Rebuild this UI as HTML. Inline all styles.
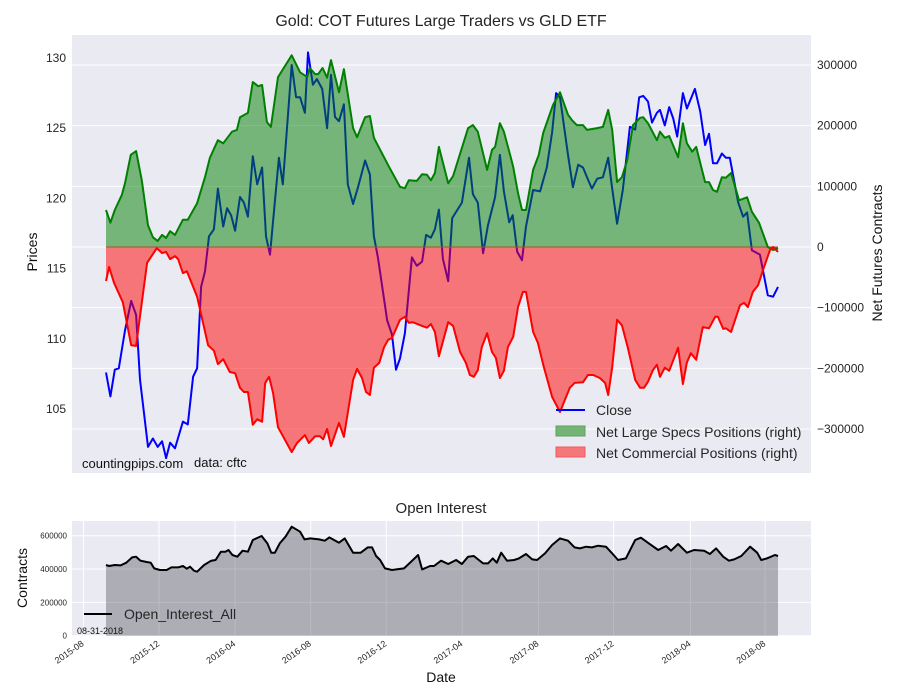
<!DOCTYPE html>
<html><head><meta charset="utf-8"><style>
body{margin:0;background:#fff;}
svg{display:block;font-family:"Liberation Sans",sans-serif;}
</style></head><body>
<svg id="chart" width="900" height="700" viewBox="0 0 900 700" xmlns="http://www.w3.org/2000/svg">
<rect x="0" y="0" width="900" height="700" fill="#fff"/>
<text x="441" y="26" text-anchor="middle" font-size="16" fill="#262626">Gold: COT Futures Large Traders vs GLD ETF</text>
<rect x="72" y="35" width="739" height="438" fill="#EAEAF2"/>
<g id="mainGrid"></g>
<g id="mainMarks"></g>
<g id="mainAxes"></g>
<text x="82" y="468" font-size="13" fill="#111">countingpips.com</text>
<text x="194" y="467" font-size="13" fill="#111">data: cftc</text>
<text transform="translate(37,252) rotate(-90)" text-anchor="middle" font-size="14" fill="#111">Prices</text>
<text transform="translate(882,253) rotate(-90)" text-anchor="middle" font-size="14" fill="#111">Net Futures Contracts</text>
<g>
<line x1="556" y1="410" x2="585" y2="410" stroke="#0000ff" stroke-width="2"/>
<text x="596" y="415" font-size="14" fill="#262626">Close</text>
<rect x="556" y="426" width="29" height="10" fill="#75b377" stroke="#5aa35c"/>
<text x="596" y="437" font-size="14" fill="#262626">Net Large Specs Positions (right)</text>
<rect x="556" y="447" width="29" height="10" fill="#f47779" stroke="#f25a5c"/>
<text x="596" y="458" font-size="14" fill="#262626">Net Commercial Positions (right)</text>
</g>
<text x="441" y="513" text-anchor="middle" font-size="15" fill="#262626">Open Interest</text>
<rect x="72" y="521" width="739" height="115" fill="#EAEAF2"/>
<g id="oiGrid"></g>
<g id="oiMarks"></g>
<g id="oiAxes"></g>
<text transform="translate(27,578) rotate(-90)" text-anchor="middle" font-size="14" fill="#111">Contracts</text>
<text x="441" y="682" text-anchor="middle" font-size="14" fill="#111">Date</text>
<g>
<line x1="84" y1="614" x2="112" y2="614" stroke="#000" stroke-width="2"/>
<text x="124" y="619" font-size="14" fill="#262626">Open_Interest_All</text>
</g>
<text x="77" y="634" font-size="9" fill="#111">08-31-2018</text>
</svg>
<script>
const closeWeeks=[0,1,2,2.9,4.3,5.7,6.8,7.7,9.5,10.6,11.7,12.7,13.6,14.5,15.6,17.4,18.5,19.7,20.6,21.5,22.4,23.3,24.4,25.3,26.5,27.4,28.3,29.2,30.3,31.2,32.1,33.2,34.2,35.3,36.2,37.1,39.1,40,42,43,43.9,45,45.7,46.8,47.7,48.9,50,50.9,51.8,52.7,53.8,54.7,55.9,57,58.6,59.7,60.6,61.5,63.6,64.7,65.6,66.5,67.6,69.2,70.3,71.5,72.4,73.5,74.4,75.3,76.2,77.4,78.3,80.5,82.1,83,84.1,85.3,86.4,88,89.1,90,91.2,92,93,94.1,95,96.6,98.2,99.7,100.9,101.8,102.7,104.5,105.6,106.8,107.9,108.8,109.9,111.1,112.4,113.6,114.5,115.6,116.9,118.5,119.7,120.6,121.5,122.6,123.5,124.6,125.3,126.4,127.4,128.3,129.2,130.5,131.4,133.2,134.4,135.5,136.4,137.3,138.2,139.3,140.2,141.1,143,144.1,145,146.1,147.9,149.7,150.9,152];
const closeValues=[107.6,105.9,107.8,107.9,110.6,112.7,111.7,107.1,102.3,102.9,102.3,102.7,101.5,102.6,102.2,104.1,103.9,107.3,107.9,113.7,114.8,117.3,117.8,120.7,118,119.3,118.8,117.7,120.1,119.7,118.7,123,121,122.2,117.3,116,122.9,121,129.5,127.2,127.2,126.1,130.4,128.1,128.5,127.8,125,128.8,125.8,125.5,126.7,121,119.6,120.8,122.7,121.7,117.3,115.8,111.3,110.3,107.8,108.6,110.4,115.8,115.2,115.5,117.4,117.2,117.8,119.2,115.7,114.1,118.6,119.7,122.9,120.3,119.7,116.1,118.1,120.1,123.1,120.5,118.3,118.8,116.2,115.6,118,120.6,120.5,122.2,124.7,127.5,127.2,123.1,120.8,122.4,122.2,121.5,120.7,121.4,121.5,122.9,120.7,118.2,120.6,125.1,124.9,127.2,127.3,126.9,125.4,126.1,126.3,125.2,126.5,125.7,124.4,127.5,126.4,127.8,126.2,123.8,124.6,122.5,122.5,123.2,122.9,122.9,119.7,118.7,119,116.3,116,113.1,113,113.7];
const specWeeks=[0,1,2,3.6,4.3,5.6,6.8,8.1,9.5,10.6,11.7,12.7,13.6,14.5,15.6,17.4,18.5,20.6,22.4,23.5,25.3,26.5,28.5,29.6,30.3,32.1,33.2,34.4,35.3,36.4,37.3,38.9,42,43.9,45.5,46.1,47.3,48,49,50,50.9,52.7,53.8,55.9,56.8,58.6,59.7,60.6,63.8,66.5,67.6,68.5,70.3,71.5,72.6,73.5,74.4,75.3,77.4,78.5,81.9,83,84.1,86.2,87.3,88,89.1,90,91.4,92.1,93.2,94.1,95,96.6,97.9,98.9,101.1,102.7,104.5,105.4,106.5,107.9,108.8,111.1,112.4,113.6,114.5,115.6,116.7,117.9,119.2,120.8,121.5,122.6,124.6,125.3,126.4,127.4,129.4,130.5,131.4,132.6,133.5,135.5,136.4,137.3,138.2,139.3,140.2,141.4,143.2,145,146.1,147.7,149.7,150.9,152];
const specValues=[61,40,61,86,105,152,158,110,36,16,10,20,15,26,20,45,45,72,115,147,176,171,190,193,214,221,272,265,267,206,198,280,316,288,280,295,285,285,295,279,308,255,293,196,181,214,216,180,135,99,97,110,109,120,119,110,122,165,105,117,196,201,190,127,160,165,204,190,152,132,89,61,61,127,152,188,234,255,218,209,201,201,193,196,198,226,193,107,115,143,201,213,214,204,176,190,180,183,148,204,171,157,165,107,107,94,91,115,114,122,77,82,58,40,0,-5,-2];
const commWeeks=[0,0.7,1.8,3.8,5.7,6.8,9.3,11.5,12.7,13.6,14.5,15.6,16.3,17.4,18.3,20.6,23.1,24.4,25.3,26.5,28,29.2,30.3,31.2,32.1,33.2,34.2,35.3,36,36.9,37.8,38.9,42,43.2,45,45.9,47.3,48.4,49.1,50,50.9,52.7,53.8,55.9,56.8,57.9,58.8,59.7,60.6,61.8,62.9,63.8,64.7,66.5,67.6,68.5,69.4,71.5,72.6,73.5,74.4,75.3,77.4,78.5,80.1,81.4,82.3,83.2,84.1,85,86.2,87.3,88.2,89.1,90,90.9,92.1,93.2,94.3,95,96.6,97.7,98.9,100.9,102.7,104.9,106,107.9,109,110.2,111.7,112.9,113.6,114.5,115.6,116.7,118,119.7,120.8,121.7,122.6,123.7,124.6,125.3,126.4,127.4,129.4,130.5,131.4,132.3,133.5,135,136.4,137.8,138.4,139.6,140.2,141.4,143.4,144.3,145.2,146.3,147.5,148.6,150.2,150.9,152];
const commValues=[-56,-33,-59,-91,-162,-163,-26,-2,-10,-8,-20,-15,-20,-43,-40,-82,-162,-171,-193,-185,-206,-208,-232,-239,-239,-293,-284,-288,-224,-214,-241,-297,-338,-323,-310,-323,-312,-312,-317,-300,-328,-290,-313,-219,-201,-216,-239,-244,-199,-191,-165,-153,-150,-120,-115,-125,-124,-130,-133,-127,-140,-180,-124,-130,-173,-191,-211,-214,-203,-165,-142,-173,-183,-216,-204,-165,-148,-99,-74,-74,-140,-158,-194,-247,-272,-232,-224,-223,-211,-211,-216,-224,-244,-198,-120,-129,-165,-219,-232,-232,-222,-203,-194,-214,-199,-204,-166,-226,-190,-175,-186,-132,-134,-115,-115,-135,-134,-140,-96,-92,-99,-74,-63,-38,-5,0,-8];
const oiWeeks=[0,0.7,2,3.3,4.6,5.9,6.8,7.8,9.2,10.1,10.9,12.2,13.7,14.8,16.3,17.4,18.3,19,19.9,20.6,22.2,23.8,24.8,26,27,27.7,28.6,29.7,30.9,32.1,33.2,35.2,36.5,37.4,38.2,39.3,40.6,42,43.9,44.9,46.2,48.2,49.5,50.5,52.7,54,55.9,57.6,59.2,60.2,61.1,62,63.1,64.7,66.3,67.4,69,70.6,71.5,73.3,74.2,75.8,77.4,79.2,80.5,81.9,83.2,85.3,86.4,87.5,88.4,89.4,90.7,92.3,93.4,95,96.4,97.5,99.3,100.9,102.7,104.5,106,107.2,108.6,109.9,111.3,113.1,114.5,115.8,117.6,119.7,121,122.8,124.9,126.7,127.8,129.4,131.4,133,135.3,136.6,138,139.6,140.9,142.1,143.7,145.7,147.3,148.2,149.5,151.3,152];
const oiValues=[424,418,424,422,438,470,474,450,442,438,404,394,394,410,410,418,402,414,390,384,424,450,454,504,504,514,484,474,510,504,574,598,554,498,498,554,594,654,624,578,584,578,570,590,558,584,498,498,530,530,478,454,404,394,400,404,444,484,398,418,418,450,430,454,430,474,478,434,434,464,438,498,450,454,464,490,458,454,494,544,584,570,530,524,534,530,540,534,494,454,464,574,588,554,514,538,510,550,498,514,510,490,524,474,450,458,478,534,498,454,464,484,478];
const priceTicks=[105,110,115,120,125,130];
const netTicks=[-300000,-200000,-100000,0,100000,200000,300000];
const oiTicks=[0,200000,400000,600000];
const dateTickLabels=["2015-08","2015-12","2016-04","2016-08","2016-12","2017-04","2017-08","2017-12","2018-04","2018-08"];
const dateTickWeeks=[-5.1,12,29.2,46.3,63.4,80.6,97.8,114.8,132.2,149.1];

const NS="http://www.w3.org/2000/svg";
const xS=w=>106+w*672/152;
const yP=p=>58+(130-p)*14.04;
const yN=v=>247-v*0.0006067;
const yO=v=>635.7-v*100/600000;
function mk(tag,attrs,parent){const e=document.createElementNS(NS,tag);for(const k in attrs)e.setAttribute(k,attrs[k]);parent.appendChild(e);return e;}
const mg=document.getElementById('mainGrid'),mm=document.getElementById('mainMarks'),ma=document.getElementById('mainAxes');
const og=document.getElementById('oiGrid'),om=document.getElementById('oiMarks'),oa=document.getElementById('oiAxes');

netTicks.forEach(t=>{
  const l=mk('line',{x1:72,x2:811,y1:yN(t),y2:yN(t),stroke:'#fff','stroke-width':1},mg);
  
  
  const tx=mk('text',{x:817,y:yN(t)+4,'font-size':12,fill:'#262626'},ma);
  tx.textContent=t===0?'0':(t<0?'\u2212'+Math.abs(t):String(t));
  
  
});
priceTicks.forEach(t=>{
  const tx=mk('text',{x:66,y:yP(t)+4,'font-size':12,fill:'#262626','text-anchor':'end'},ma);
  tx.textContent=String(t);
  
  
});
function pts(ws,vs,fy){return ws.map((w,i)=>xS(w).toFixed(1)+','+fy(vs[i]).toFixed(1)).join(' ');}
const cl=mk('polyline',{points:pts(closeWeeks,closeValues,yP),fill:'none',stroke:'#0000ff','stroke-width':2,'stroke-linejoin':'round'},mm);


function area(ws,vs,fy,base){return xS(ws[0]).toFixed(1)+','+base+' '+pts(ws,vs,fy)+' '+xS(ws[ws.length-1]).toFixed(1)+','+base;}
const sa=mk('polygon',{points:area(specWeeks,specValues.map(v=>v*1000),yN,yN(0)),fill:'rgba(0,128,0,0.5)'},mm);


const ca=mk('polygon',{points:area(commWeeks,commValues.map(v=>v*1000),yN,yN(0)),fill:'rgba(255,0,0,0.5)'},mm);


const zl=mk('line',{x1:xS(0),x2:xS(152),y1:yN(0),y2:yN(0),stroke:'#a05a1e','stroke-width':1},mm);


const sl=mk('polyline',{points:pts(specWeeks,specValues.map(v=>v*1000),yN),fill:'none',stroke:'#008000','stroke-width':2,'stroke-linejoin':'round'},mm);


const rl=mk('polyline',{points:pts(commWeeks,commValues.map(v=>v*1000),yN),fill:'none',stroke:'#ff0000','stroke-width':2,'stroke-linejoin':'round'},mm);



oiTicks.forEach(t=>{
  const l=mk('line',{x1:72,x2:811,y1:yO(t),y2:yO(t),stroke:'#fff','stroke-width':1},og);
  
  
  const tx=mk('text',{x:67,y:yO(t)+3,'font-size':8,fill:'#262626','text-anchor':'end'},oa);
  tx.textContent=String(t);
  
  
});
dateTickWeeks.forEach((w,i)=>{
  const x=xS(w);
  const l=mk('line',{x1:x,x2:x,y1:521,y2:636,stroke:'#fff','stroke-width':1},og);
  
  
  const tx=mk('text',{transform:'translate('+(x+1)+',645) rotate(-35)','font-size':9,fill:'#262626','text-anchor':'end'},oa);
  tx.textContent=dateTickLabels[i];
  
  
});
const oiv=oiValues.map(v=>v*1000);
const oarea=mk('polygon',{points:area(oiWeeks,oiv,yO,yO(0)),fill:'rgba(60,60,70,0.35)'},om);


const ol=mk('polyline',{points:pts(oiWeeks,oiv,yO),fill:'none',stroke:'#000','stroke-width':2,'stroke-linejoin':'round'},om);


</script>
</body></html>
